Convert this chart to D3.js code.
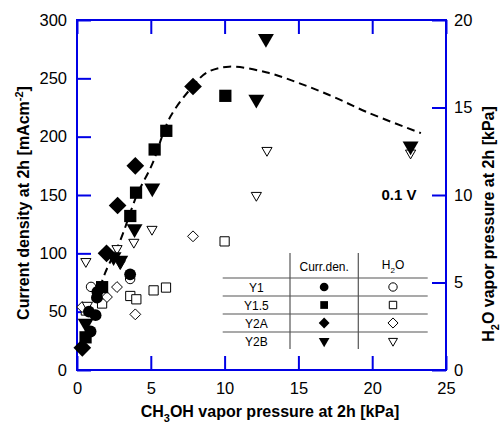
<!DOCTYPE html>
<html>
<head>
<meta charset="utf-8">
<script src="https://cdn.jsdelivr.net/npm/d3@7"></script>
<style>
  body { margin: 0; background: #fff; }
  text { font-family: Arial, "Liberation Sans", sans-serif; }
</style>
</head>
<body>
<svg id="chart" width="501" height="423"></svg>
<script>
// current density [mA/cm2] vs CH3OH pressure [kPa]
const y1Cd   = [[0.92, 33], [0.81, 50], [1.26, 47], [1.35, 62], [1.38, 67], [3.6, 82]];
const y15Cd  = [[0.58, 28], [1.7, 71], [3.61, 132], [4.0, 152], [5.26, 189], [6.05, 205], [10.05, 235]];
const y2aCd  = [[0.36, 19], [2.0, 100], [2.75, 141], [3.95, 175], [7.86, 243]];
const y2bCd  = [[0.59, 40], [2.48, 97], [2.93, 94], [3.9, 121], [5.1, 156], [12.15, 232], [12.8, 284], [22.6, 192]];
// H2O vapor pressure [kPa] vs CH3OH pressure [kPa]
const y1H2o  = [[0.95, 4.75], [3.6, 5.2]];
const y15H2o = [[0.6, 3.4], [1.7, 3.8], [3.61, 4.23], [4.02, 4.04], [5.19, 4.55], [6.03, 4.71], [10.0, 7.35]];
const y2aH2o = [[0.35, 3.6], [2.03, 4.17], [2.71, 4.74], [3.95, 3.18], [7.86, 7.64]];
const y2bH2o = [[0.7, 3.7], [0.6, 6.2], [2.71, 6.94], [2.93, 6.08], [3.85, 7.3], [5.08, 8.04], [12.15, 9.98], [12.87, 12.55], [22.6, 12.4]];
// dashed trend of current density
const trend = [[1.3, 60], [1.9, 83], [2.9, 110], [4.06, 150], [5.08, 176], [6.32, 217], [7.9, 244], [8.8, 255], [10.3, 260],
               [12.87, 255], [15.13, 245.5], [17.4, 234], [19.65, 221], [23.3, 203]];

const xTicks = [0, 5, 10, 15, 20, 25];
const yTicks = [0, 50, 100, 150, 200, 250, 300];
const y2Ticks = [0, 5, 10, 15, 20];
const rowNames = ["Y1", "Y1.5", "Y2A", "Y2B"];

const svg = d3.select("#chart");
const margin = { top: 20, right: 55, bottom: 53, left: 77 };
const width = +svg.attr("width") - margin.left - margin.right;
const height = +svg.attr("height") - margin.top - margin.bottom;
const blue = "#0000e6";

const x = d3.scaleLinear().domain([0, 25]).range([0, width]);
const y = d3.scaleLinear().domain([0, 300]).range([height, 0]);
const y2 = d3.scaleLinear().domain([0, 20]).range([height, 0]);

const g = svg.append("g")
    .attr("transform", "translate(" + margin.left + "," + margin.top + ")");

// axes, ticks pointing inward
function styleAxis(sel) {
    sel.select(".domain").remove();
    sel.selectAll(".tick line").attr("stroke", blue).attr("stroke-width", 2);
    sel.selectAll(".tick text").attr("fill", "#000").style("font-size", "16.5px");
}
g.append("g").attr("transform", "translate(0," + height + ")")
    .call(d3.axisBottom(x).tickValues(xTicks).tickSize(-14).tickPadding(12.5))
    .call(styleAxis);
g.append("g")
    .call(d3.axisTop(x).tickValues(xTicks).tickSize(-14).tickFormat(""))
    .call(styleAxis);
g.append("g")
    .call(d3.axisLeft(y).tickValues(yTicks).tickSize(-14).tickPadding(10))
    .call(styleAxis);
g.append("g").attr("transform", "translate(" + width + ",0)")
    .call(d3.axisRight(y2).tickValues(y2Ticks).tickSize(-14).tickPadding(8))
    .call(styleAxis);
g.append("rect").attr("width", width).attr("height", height)
    .attr("fill", "none").attr("stroke", blue).attr("stroke-width", 2);

// trend line
g.append("path").datum(trend)
    .attr("d", d3.line().x(d => x(d[0])).y(d => y(d[1])).curve(d3.curveCatmullRom))
    .attr("fill", "none").attr("stroke", "#000").attr("stroke-width", 2)
    .attr("stroke-dasharray", "8,5");

const sym = {
    circle: d3.symbolCircle, square: d3.symbolSquare,
    diamond: d3.symbolDiamond2, tri: d3.symbolTriangle
};
function drawPoints(data, yScale, shape, size, filled) {
    g.append("g").selectAll("path").data(data).enter().append("path")
        .attr("d", d3.symbol().type(sym[shape]).size(size))
        .attr("transform", d => "translate(" + x(d[0]) + "," + yScale(d[1]) + ")" + (shape === "tri" ? " rotate(180)" : ""))
        .attr("fill", filled ? "#000" : "#fff")
        .attr("stroke", "#000").attr("stroke-width", filled ? 0 : 1);
}
drawPoints(y15H2o, y2, "square", 85, false);
drawPoints(y2aH2o, y2, "diamond", 75, false);
drawPoints(y1H2o, y2, "circle", 70, false);
drawPoints(y2bH2o, y2, "tri", 45, false);
drawPoints(y1Cd, y, "circle", 110, true);
drawPoints(y15Cd, y, "square", 150, true);
drawPoints(y2aCd, y, "diamond", 200, true);
drawPoints(y2bCd, y, "tri", 110, true);

// label
g.append("text").attr("x", x(23)).attr("y", y(146)).attr("text-anchor", "end")
    .style("font-size", "15px").style("font-weight", "bold").text("0.1 V");

// legend table
const tb = svg.append("g");
const tL = 222.7, tR = 427.7, c1 = 290, c2 = 358.3;
const lines = [278, 296, 314, 332];
lines.forEach(v => tb.append("line").attr("x1", tL).attr("x2", tR).attr("y1", v).attr("y2", v)
    .attr("stroke", "#555").attr("stroke-width", 1.2));
[c1, c2].forEach(v => tb.append("line").attr("x1", v).attr("x2", v).attr("y1", 253).attr("y2", 349)
    .attr("stroke", "#555").attr("stroke-width", 1.2));
tb.append("text").attr("x", (c1 + c2) / 2).attr("y", 271).attr("text-anchor", "middle")
    .style("font-size", "12px").text("Curr.den.");
const h2oHead = tb.append("text").attr("x", (c2 + tR) / 2).attr("y", 269).attr("text-anchor", "middle")
    .style("font-size", "12px");
h2oHead.append("tspan").text("H");
h2oHead.append("tspan").attr("dy", 4).style("font-size", "8px").text("2");
h2oHead.append("tspan").attr("dy", -4).text("O");
const shapes = ["circle", "square", "diamond", "tri"];
const legFilled = [60, 60, 75, 50];
const legOpen = [55, 55, 65, 35];
rowNames.forEach((name, i) => {
    const cy = 287 + i * 18;
    tb.append("text").attr("x", (tL + c1) / 2).attr("y", cy + 4.5).attr("text-anchor", "middle")
        .style("font-size", "12px").text(name);
    const rot = shapes[i] === "tri" ? " rotate(180)" : "";
    tb.append("path").attr("d", d3.symbol().type(sym[shapes[i]]).size(legFilled[i]))
        .attr("transform", "translate(" + (c1 + c2) / 2 + "," + cy + ")" + rot).attr("fill", "#000");
    tb.append("path").attr("d", d3.symbol().type(sym[shapes[i]]).size(legOpen[i]))
        .attr("transform", "translate(" + (c2 + tR) / 2 + "," + cy + ")" + rot)
        .attr("fill", "#fff").attr("stroke", "#000").attr("stroke-width", 1);
});

// axis titles
const xt = svg.append("text").attr("x", 270).attr("y", 417).attr("text-anchor", "middle")
    .style("font-size", "16px").style("font-weight", "bold");
xt.append("tspan").text("CH");
xt.append("tspan").attr("dy", 5).style("font-size", "11px").text("3");
xt.append("tspan").attr("dy", -5).text("OH vapor pressure at 2h [kPa]");

const yt = svg.append("text").attr("transform", "translate(29,203) rotate(-90)").attr("text-anchor", "middle")
    .style("font-size", "16px").style("font-weight", "bold");
yt.append("tspan").text("Current density at 2h [mAcm");
yt.append("tspan").attr("dy", -6).style("font-size", "11px").text("-2");
yt.append("tspan").attr("dy", 6).text("]");

const y2t = svg.append("text").attr("transform", "translate(494,224) rotate(-90)").attr("text-anchor", "middle")
    .style("font-size", "16px").style("font-weight", "bold");
y2t.append("tspan").text("H");
y2t.append("tspan").attr("dy", 5).style("font-size", "11px").text("2");
y2t.append("tspan").attr("dy", -5).text("O vapor pressure at 2h [kPa]");
</script>
</body>
</html>
